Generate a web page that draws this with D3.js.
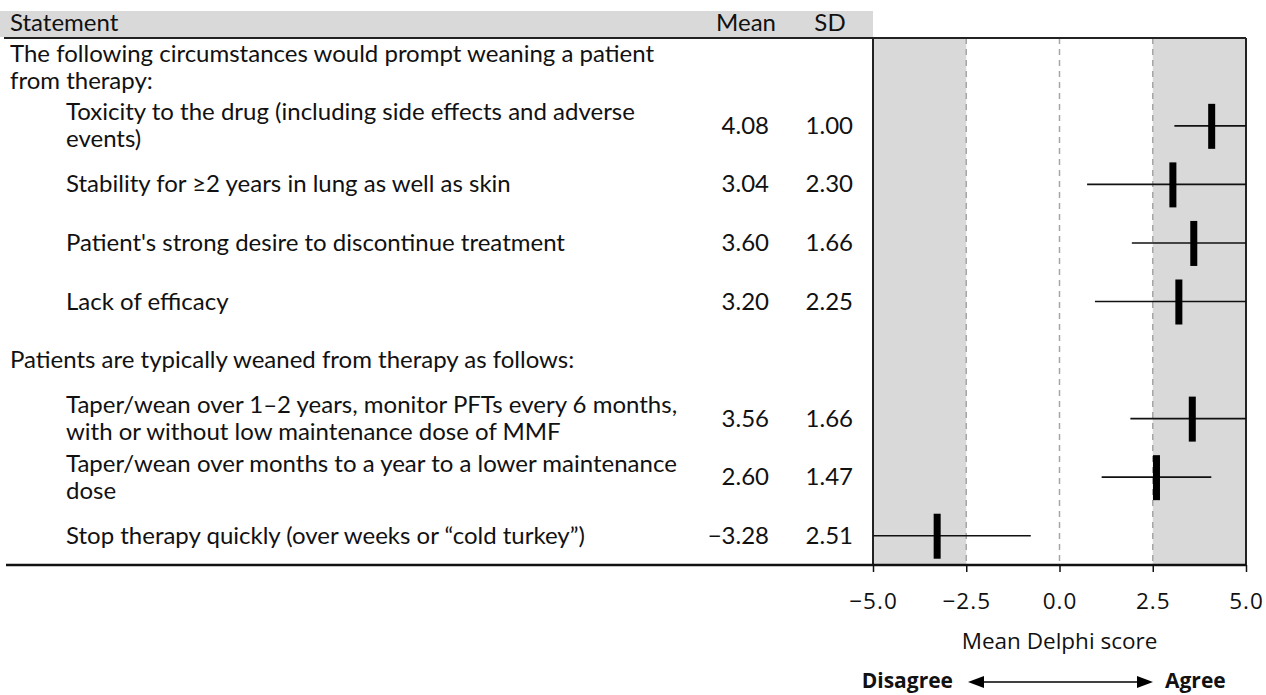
<!DOCTYPE html>
<html><head><meta charset="utf-8">
<script src="https://cdn.jsdelivr.net/npm/d3@7/dist/d3.min.js"></script>
<style>body{margin:0;background:#fff}svg{display:block}text{fill:#111}</style>
</head><body><svg id="c" width="1266" height="695"></svg>
<script>
const rowLabels = [
  ["The following circumstances would prompt weaning a patient", "from therapy:"],
  ["Toxicity to the drug (including side effects and adverse", "events)"],
  ["Stability for \u22652 years in lung as well as skin"],
  ["Patient's strong desire to discontinue treatment"],
  ["Lack of efficacy"],
  ["Patients are typically weaned from therapy as follows:"],
  ["Taper/wean over 1\u20132 years, monitor PFTs every 6 months,", "with or without low maintenance dose of MMF"],
  ["Taper/wean over months to a year to a lower maintenance", "dose"],
  ["Stop therapy quickly (over weeks or \u201ccold turkey\u201d)"]
];
const rowTypes = ["g","i","i","i","i","g","i","i","i"];
const means = [null, 4.08, 3.04, 3.60, 3.20, null, 3.56, 2.60, -3.28];
const sds   = [null, 1.00, 2.30, 1.66, 2.25, null, 1.66, 1.47, 2.51];
const xTicks = [-5, -2.5, 0, 2.5, 5];
const headers = ["Statement", "Mean", "SD"];

const FS = 24;
const BODY = "Lato, sans-serif";
const AXF = "'Open Sans', sans-serif";
const svg = d3.select("#c");
const yTop = 38, yBot = 565;
const x = d3.scaleLinear().domain([-5, 5]).range([873, 1246]);
const y = d3.scaleBand().domain(d3.range(rowLabels.length)).range([yTop, yBot]);
const yc = i => y(i) + y.bandwidth() / 2;

const T = (xx, yy, s, size, font) => svg.append("text").attr("x", xx).attr("y", yy)
  .attr("font-size", size || FS).style("font-family", font || BODY).text(s);

svg.append("rect").attr("x", 0).attr("y", 11).attr("width", 873).attr("height", 26).attr("fill", "#d9d9d9");
T(10, 31, headers[0]);
T(746, 31, headers[1]).attr("text-anchor", "middle");
T(830, 31, headers[2]).attr("text-anchor", "middle");

svg.append("rect").attr("x", x(-5)).attr("y", yTop).attr("width", x(-2.5) - x(-5)).attr("height", yBot - yTop).attr("fill", "#d9d9d9");
svg.append("rect").attr("x", x(2.5)).attr("y", yTop).attr("width", x(5) - x(2.5)).attr("height", yBot - yTop).attr("fill", "#d9d9d9");
svg.selectAll("line.ref").data([-2.5, 0, 2.5]).join("line").attr("class", "ref")
  .attr("x1", d => x(d)).attr("x2", d => x(d)).attr("y1", yTop).attr("y2", yBot)
  .attr("stroke", "#a6a6a6").attr("stroke-width", 1.5).attr("stroke-dasharray", "6,5");

svg.append("line").attr("x1", 4).attr("x2", x(5)).attr("y1", yTop).attr("y2", yTop).attr("stroke", "#222").attr("stroke-width", 2);
svg.append("line").attr("x1", x(-5)).attr("x2", x(-5)).attr("y1", yTop).attr("y2", yBot).attr("stroke", "#222").attr("stroke-width", 2);
svg.append("line").attr("x1", x(5)).attr("x2", x(5)).attr("y1", yTop).attr("y2", yBot).attr("stroke", "#222").attr("stroke-width", 2);

rowLabels.forEach((lines, i) => {
  const indent = rowTypes[i] === "g" ? 10 : 66;
  const n = lines.length;
  lines.forEach((t, k) => T(indent, yc(i) + (k - (n - 1) / 2) * 27 + 8, t));
  if (means[i] !== null) {
    T(769, yc(i) + 8, means[i] < 0 ? "\u2212" + Math.abs(means[i]).toFixed(2) : means[i].toFixed(2)).attr("text-anchor", "end");
    T(853, yc(i) + 8, sds[i].toFixed(2)).attr("text-anchor", "end");
  }
});

const items = d3.range(rowLabels.length).filter(i => means[i] !== null);
svg.selectAll("line.err").data(items).join("line").attr("class", "err")
  .attr("x1", i => x(Math.max(-5, means[i] - sds[i]))).attr("x2", i => x(Math.min(5, means[i] + sds[i])))
  .attr("y1", yc).attr("y2", yc).attr("stroke", "#111").attr("stroke-width", 1.6);
svg.selectAll("rect.mk").data(items).join("rect").attr("class", "mk")
  .attr("x", i => x(means[i]) - 3.5).attr("y", i => yc(i) - 22).attr("width", 7).attr("height", 45).attr("fill", "#000");

svg.append("line").attr("x1", 6).attr("x2", x(5)).attr("y1", yBot).attr("y2", yBot).attr("stroke", "#111").attr("stroke-width", 2.5);
const ax = svg.append("g").attr("transform", `translate(0,${yBot})`)
  .call(d3.axisBottom(x).tickValues(xTicks).tickSize(7).tickFormat(d => d3.format(".1f")(d).replace("-", "\u2212")));
ax.select(".domain").remove();
ax.selectAll(".tick line").attr("stroke", "#111").attr("stroke-width", 1.5);
ax.selectAll(".tick text").attr("y", 44).attr("dy", 0).attr("font-size", 22.5)
  .style("font-family", AXF).style("letter-spacing", "1px").attr("fill", "#111");

T(x(0), 649, "Mean Delphi score", 22.5, AXF).attr("text-anchor", "middle");

T(953, 688, "Disagree", 21, AXF).attr("font-weight", "bold").attr("text-anchor", "end");
T(1165, 688, "Agree", 21, AXF).attr("font-weight", "bold");
const ay = 682;
svg.append("line").attr("x1", 975).attr("x2", 1145).attr("y1", ay).attr("y2", ay).attr("stroke", "#000").attr("stroke-width", 1.5);
svg.append("path").attr("d", `M968,${ay} L984,${ay - 6} L984,${ay + 6} Z`).attr("fill", "#000");
svg.append("path").attr("d", `M1153,${ay} L1137,${ay - 6} L1137,${ay + 6} Z`).attr("fill", "#000");
</script></body></html>
